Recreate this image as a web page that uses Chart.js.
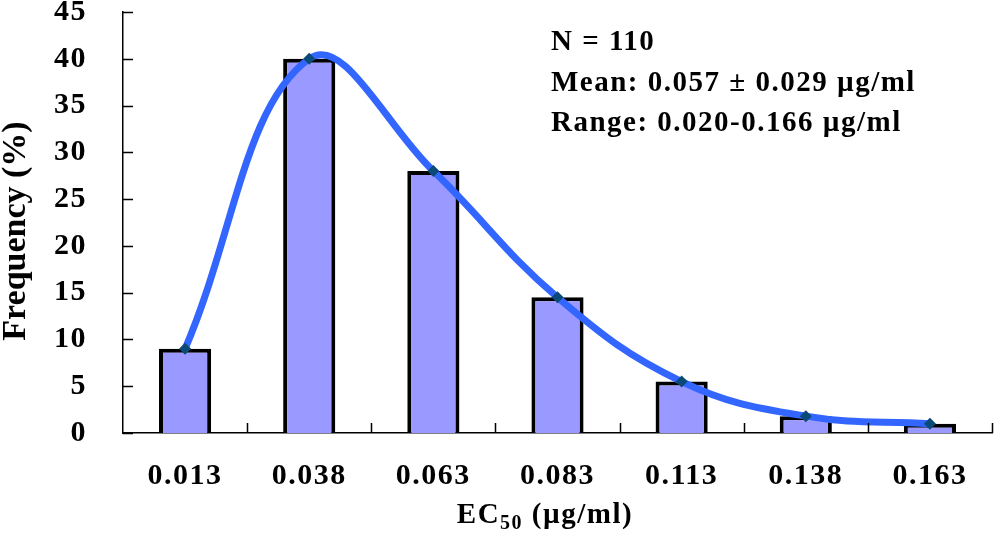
<!DOCTYPE html>
<html>
<head>
<meta charset="utf-8">
<script src="https://cdn.jsdelivr.net/npm/chart.js@4/dist/chart.umd.min.js"></script>
<style>
  html, body { margin: 0; padding: 0; background: #fff; }
  #wrap { width: 998px; height: 543px; position: relative; }
</style>
</head>
<body>
<div id="wrap"><canvas id="ec50-chart"></canvas></div>
<script>
// EC50 classes and frequency (%)
const categories = ['0.013', '0.038', '0.063', '0.083', '0.113', '0.138', '0.163'];
const frequency  = [9, 40, 28, 14.5, 5.5, 1.8, 1];
const yTicks     = [0, 45, 5]; // min, max, step
const notes      = ['N = 110', 'Mean: 0.057 ± 0.029 µg/ml', 'Range: 0.020-0.166 µg/ml'];

const FONT = "'Liberation Serif', 'Times New Roman', serif";

// the original text is a bit wider than Liberation Serif, so space it out
const spacing = {
    id: 'spacing',
    beforeUpdate( chart ) { chart.ctx.letterSpacing = '1.5px'; },
    beforeDraw( chart ) { chart.ctx.letterSpacing = '1.5px'; }
};

// inward tick marks, axis titles and the stats note
const overlay = {
    id: 'overlay',
    afterDraw( chart ) {
        const ctx = chart.ctx;
        const a   = chart.chartArea;
        const xs  = chart.scales.x;
        const ys  = chart.scales.y;
        ctx.save();
        ctx.strokeStyle = '#000';
        ctx.lineWidth = 1.5;
        ctx.beginPath();
        ys.ticks.forEach( ( t, i ) => {
            const py = Math.round( ys.getPixelForTick( i ) ) + 0.5;
            ctx.moveTo( a.left, py );
            ctx.lineTo( a.left + 10, py );
        } );
        for ( let i = 1; i <= categories.length; i++ ) {
            const px = Math.round( xs.getPixelForValue( i - 0.5 ) ) + 0.5;
            ctx.moveTo( px, a.bottom );
            ctx.lineTo( px, a.bottom - 10 );
        }
        ctx.stroke();

        ctx.fillStyle = '#000';
        ctx.textBaseline = 'alphabetic';

        // stats
        ctx.letterSpacing = '1.5px';
        ctx.font = 'bold 29px ' + FONT;
        ctx.textAlign = 'left';
        notes.forEach( ( s, i ) => ctx.fillText( s, 551, 50 + i * 40.5 ) );

        // x title with subscript
        const main = 'EC', sub = '50', rest = ' (µg/ml)';
        const big = 'bold 29px ' + FONT, small = 'bold 20px ' + FONT;
        ctx.font = big;  const w1 = ctx.measureText( main ).width;
        const w3 = ctx.measureText( rest ).width;
        ctx.font = small; const w2 = ctx.measureText( sub ).width;
        let x0 = 545 - ( w1 + w2 + w3 ) / 2;
        ctx.font = big;   ctx.fillText( main, x0, 523 ); x0 += w1;
        ctx.font = small; ctx.fillText( sub, x0, 529 );  x0 += w2;
        ctx.font = big;   ctx.fillText( rest, x0, 523 );

        // y title
        ctx.letterSpacing = '0px';
        ctx.translate( 25, 231 );
        ctx.rotate( -Math.PI / 2 );
        ctx.textAlign = 'center';
        ctx.font = 'bold 34px ' + FONT;
        ctx.fillText( 'Frequency (%)', 0, 0 );
        ctx.restore();
    }
};

const data = {
    labels: categories,
    datasets: [
        {
            type: 'line',
            label: 'Fit',
            data: frequency,
            borderColor: '#3366FF',
            borderWidth: 7,
            tension: 0.4,
            pointStyle: 'rectRot',
            pointRadius: 6,
            pointBorderWidth: 0,
            pointBackgroundColor: '#0B4A78',
            order: 0
        },
        {
            type: 'bar',
            label: 'Frequency',
            data: frequency,
            backgroundColor: '#9999FF',
            borderColor: '#000',
            borderWidth: 4,
            categoryPercentage: 1,
            barPercentage: 0.42,
            order: 1
        }
    ]
};

const config = {
    data: data,
    options: {
        responsive: true,
        maintainAspectRatio: false,
        animation: false,
        devicePixelRatio: 1,
        layout: { padding: { left: 0, right: 3, top: 12, bottom: 0 } },
        plugins: {
            legend: { display: false },
            tooltip: { enabled: false }
        },
        scales: {
            x: {
                grid: { display: false, drawTicks: false },
                border: { display: true, color: '#000', width: 1.5 },
                ticks: {
                    color: '#000',
                    padding: 25,
                    maxRotation: 0,
                    font: { family: FONT, size: 30, weight: 'bold' }
                },
                afterFit( s ) { s.height = 110; s.paddingLeft = 0; s.paddingRight = 0; }
            },
            y: {
                min: yTicks[0],
                max: yTicks[1],
                grid: { display: false, drawTicks: false },
                border: { display: true, color: '#000', width: 1.5 },
                ticks: {
                    stepSize: yTicks[2],
                    color: '#000',
                    padding: 36,
                    font: { family: FONT, size: 30, weight: 'bold' }
                },
                afterFit( s ) { s.width = 123; s.paddingTop = 0; s.paddingBottom = 0; }
            }
        }
    },
    plugins: [ spacing, overlay ]
};

new Chart( document.getElementById( 'ec50-chart' ), config );
</script>
</body>
</html>
